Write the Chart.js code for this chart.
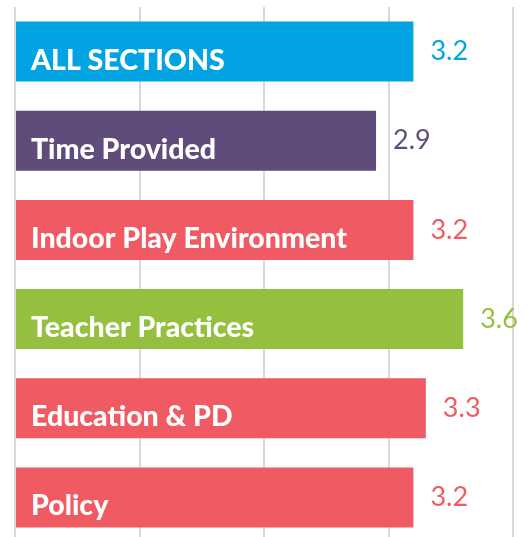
<!DOCTYPE html>
<html>
<head>
<meta charset="utf-8">
<script src="https://cdn.jsdelivr.net/npm/chart.js@4"></script>
<style>
  html, body { margin: 0; padding: 0; background: #fff; overflow: hidden; }
  #wrap { position: relative; width: 528px; height: 542px; }
</style>
</head>
<body>
<div id="wrap"><canvas id="barChart"></canvas></div>
<script>
var sections = ['ALL SECTIONS', 'Time Provided', 'Indoor Play Environment', 'Teacher Practices', 'Education & PD', 'Policy']
var scores = [3.2, 2.9, 3.2, 3.6, 3.3, 3.2]
var scoreLabels = ['3.2', '2.9', '3.2', '3.6', '3.3', '3.2']
var barColors = ['#02a3e3', '#604c7b', '#f05a62', '#95bf3e', '#f05a62', '#f05a62']

// labels inside and next to each bar
var barLabels = {
    id: 'barLabels',
    afterDatasetsDraw: function (chart) {
        var ctx = chart.ctx
        var meta = chart.getDatasetMeta(0)
        ctx.save()
        meta.data.forEach(function (bar, i) {
            var p = bar.getProps(['x', 'y', 'base', 'height'], true)
            // name, white, near bottom of bar
            ctx.fillStyle = '#ffffff'
            ctx.font = '900 28.5px Lato'
            ctx.textAlign = 'left'
            ctx.textBaseline = 'alphabetic'
            ctx.fillText(sections[i], p.base + 15, p.y + p.height / 2 - 12)
            // value, bar colour, right of bar
            ctx.fillStyle = barColors[i]
            ctx.font = '27px Lato'
            ctx.textBaseline = 'middle'
            ctx.fillText(scoreLabels[i], p.x + 17, p.y)
        })
        ctx.restore()
    }
}

var barChartCanvas = document.getElementById('barChart').getContext('2d')

var barChart = new Chart(barChartCanvas, {
    type: 'bar',
    data: {
        labels: sections,
        datasets: [
            {
                data: scores,
                backgroundColor: barColors,
                borderWidth: 0,
                categoryPercentage: 1,
                barPercentage: 0.673
            }
        ]
    },
    options: {
        indexAxis: 'y',
        responsive: true,
        maintainAspectRatio: false,
        animation: false,
        layout: { padding: { left: 15, right: 15, top: 7, bottom: 0 } },
        plugins: {
            legend: { display: false },
            tooltip: { enabled: false }
        },
        scales: {
            x: {
                min: 0,
                max: 4,
                ticks: { display: false, stepSize: 1 },
                grid: { color: '#d9d9d9', lineWidth: 2, drawTicks: false },
                border: { display: false }
            },
            y: {
                display: false
            }
        }
    },
    plugins: [barLabels]
})
</script>
</body>
</html>
